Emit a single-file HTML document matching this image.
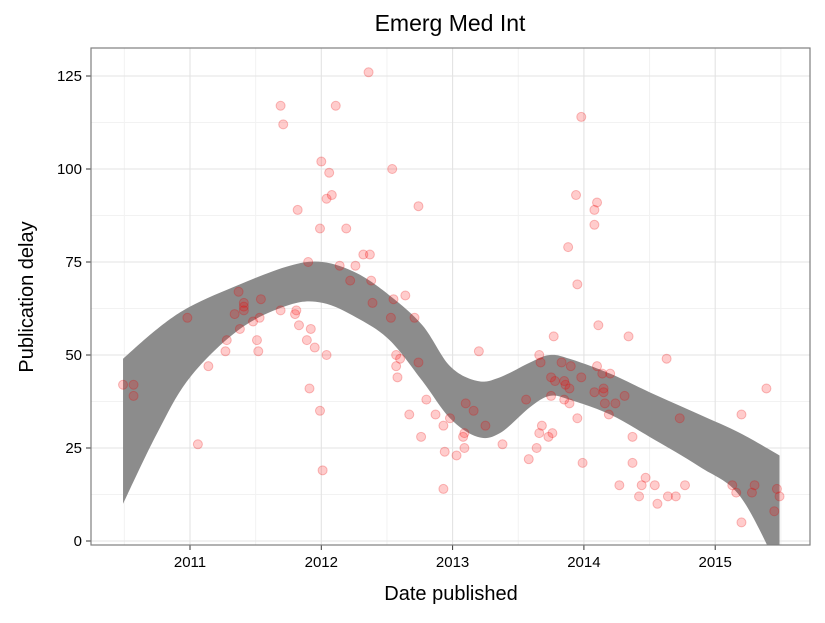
<!DOCTYPE html>
<html><head><meta charset="utf-8"><style>
body{margin:0;background:#fff;width:825px;height:618px;overflow:hidden;font-family:"Liberation Sans",sans-serif}
</style></head><body>
<svg id="chart" width="825" height="618" xmlns="http://www.w3.org/2000/svg">
<defs><clipPath id="pc"><rect x="91" y="48" width="719" height="497"/></clipPath></defs>
<text x="450" y="31" text-anchor="middle" font-size="23" fill="#000">Emerg Med Int</text>
<g id="grid"></g><g id="band" clip-path="url(#pc)"></g><g id="pts" clip-path="url(#pc)"></g><g id="axes"></g>
<rect x="91" y="48" width="719" height="497" fill="none" stroke="#7f7f7f" stroke-width="1.2"/>
<text x="451" y="600" text-anchor="middle" font-size="20">Date published</text>
<text transform="translate(33,297) rotate(-90)" text-anchor="middle" font-size="20">Publication delay</text>
</svg>
<script>
const years=[2010.49,2010.57,2010.57,2010.98,2011.06,2011.14,2011.27,2011.28,2011.34,2011.38,2011.37,2011.41,2011.41,2011.41,2011.48,2011.51,2011.52,2011.53,2011.54,2011.69,2011.81,2011.80,2011.83,2011.82,2011.89,2011.92,2011.95,2011.91,2011.90,2012.00,2012.06,2012.04,2012.08,2011.99,2012.04,2011.99,2012.01,2012.19,2012.14,2012.22,2012.26,2012.32,2012.37,2012.38,2012.39,2012.54,2012.74,2012.55,2012.64,2012.53,2012.71,2012.57,2012.60,2012.57,2012.58,2012.74,2012.80,2012.67,2012.87,2012.93,2012.98,2012.76,2012.94,2013.03,2012.93,2011.69,2011.71,2012.11,2012.36,2014.11,2013.77,2014.34,2013.20,2014.63,2013.66,2013.67,2013.83,2013.90,2014.10,2014.14,2014.20,2013.98,2013.75,2013.78,2013.85,2013.86,2013.89,2014.08,2014.15,2014.15,2013.75,2013.56,2013.85,2013.89,2014.16,2014.24,2014.31,2014.19,2013.95,2014.73,2015.20,2015.39,2013.10,2013.16,2013.25,2013.09,2013.08,2013.09,2013.38,2013.68,2013.66,2013.76,2013.73,2013.64,2013.58,2013.99,2014.37,2014.37,2014.47,2014.27,2014.44,2014.54,2014.77,2014.42,2014.64,2014.70,2014.56,2015.13,2015.16,2015.30,2015.28,2015.47,2015.49,2015.45,2015.20,2013.98,2014.08,2014.10,2014.08,2013.94,2013.88,2013.95];
const delays=[42,42,39,60,26,47,51,54,61,57,67,64,63,62,59,54,51,60,65,62,62,61,58,89,54,57,52,41,75,102,99,92,93,84,50,35,19,84,74,70,74,77,77,70,64,100,90,65,66,60,60,50,49,47,44,48,38,34,34,31,33,28,24,23,14,117,112,117,126,58,55,55,51,49,50,48,48,47,47,45,45,44,44,43,43,42,41,40,41,40,39,38,38,37,37,37,39,34,33,33,34,41,37,35,31,29,28,25,26,31,29,29,28,25,22,21,28,21,17,15,15,15,15,12,12,12,10,15,13,15,13,14,12,8,5,114,89,91,85,93,79,69];
const bandX=[2010.49,2010.75,2011.0,2011.38,2011.76,2012.01,2012.27,2012.52,2012.77,2012.98,2013.19,2013.36,2013.59,2013.74,2013.89,2014.2,2014.5,2014.88,2015.19,2015.49];
const bandHi=[49,57,63,69,74,75,72,66,58,47,43,44,48,50,49,45,40,34,29,23];
const bandLo=[10,29,44,57,63.5,64,60,54,43,33,28,29,36,39,38,34,28,20,12,-8];
const xTicks=[2011,2012,2013,2014,2015];
const yTicks=[0,25,50,75,100,125];
const NS="http://www.w3.org/2000/svg";
const xs=y=>190+(y-2011)*131.3, ys=v=>541-v*3.72;
function mk(t,a,p){const e=document.createElementNS(NS,t);for(const k in a)e.setAttribute(k,a[k]);p.appendChild(e);return e;}
const grid=document.getElementById('grid'),axes=document.getElementById('axes');
mk('rect',{x:91,y:48,width:719,height:497,fill:'#fff'},grid);
for(let i=-1;i<xTicks.length;i++){const m=xTicks[0]+i+0.5;const x=xs(m);if(x>91&&x<810){const l=mk('line',{x1:x,x2:x,y1:48,y2:545,stroke:'#f2f2f2','stroke-width':1},grid);}}
for(let i=0;i<yTicks.length;i++){const m=yTicks[i]+12.5;const y=ys(m);if(y>48){const l=mk('line',{x1:91,x2:810,y1:y,y2:y,stroke:'#f2f2f2','stroke-width':1},grid);}}
xTicks.forEach(t=>{const x=xs(t);
const g=mk('line',{x1:x,x2:x,y1:48,y2:545,stroke:'#e3e3e3','stroke-width':1.1},grid);

const tk=mk('line',{x1:x,x2:x,y1:545,y2:550,stroke:'#333'},axes);

const tx=mk('text',{x:x,y:567,'text-anchor':'middle','font-size':15,fill:'#000'},axes);tx.textContent=t;
});
yTicks.forEach(t=>{const y=ys(t);
const g=mk('line',{x1:91,x2:810,y1:y,y2:y,stroke:'#e3e3e3','stroke-width':1.1},grid);

const tk=mk('line',{x1:86,x2:91,y1:y,y2:y,stroke:'#333'},axes);

const tx=mk('text',{x:82,y:y+5,'text-anchor':'end','font-size':15,fill:'#000'},axes);tx.textContent=t;
});
function smooth(P){let s='';for(let i=0;i<P.length-1;i++){const p0=P[Math.max(i-1,0)],p1=P[i],p2=P[i+1],p3=P[Math.min(i+2,P.length-1)];
const c1=[p1[0]+(p2[0]-p0[0])/6,p1[1]+(p2[1]-p0[1])/6],c2=[p2[0]-(p3[0]-p1[0])/6,p2[1]-(p3[1]-p1[1])/6];
s+='C'+c1+' '+c2+' '+p2;}return s;}
const upperPts=bandX.map((x,i)=>[xs(x),ys(bandHi[i])]);
const lowerPts=bandX.map((x,i)=>[xs(x),ys(bandLo[i])]).reverse();
const bandPath='M'+upperPts[0]+smooth(upperPts)+'L'+lowerPts[0]+smooth(lowerPts)+'Z';
const band=mk('path',{d:bandPath,fill:'#8c8c8c',stroke:'none'},document.getElementById('band'));


const pg=document.getElementById('pts');
years.forEach((yr,i)=>{const c=mk('circle',{cx:xs(yr),cy:ys(delays[i]),r:4.5,fill:'rgba(255,0,0,0.2)',stroke:'rgba(230,0,0,0.25)','stroke-width':1},pg);

});
</script>
</body></html>
